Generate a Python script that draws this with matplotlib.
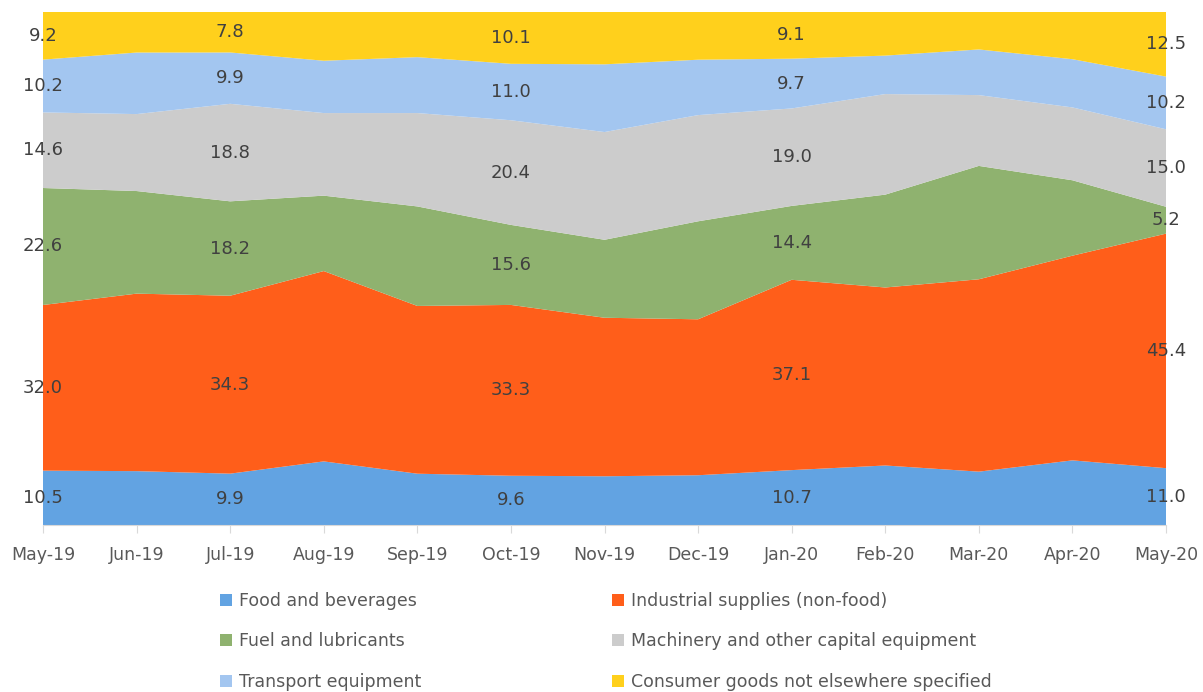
import matplotlib.pyplot as plt
from matplotlib.patches import Patch
import numpy as np

plt.rcParams['font.family'] = ['Liberation Sans Narrow', 'DejaVu Sans']

months = ["May-19", "Jun-19", "Jul-19", "Aug-19", "Sep-19", "Oct-19", "Nov-19",
          "Dec-19", "Jan-20", "Feb-20", "Mar-20", "Apr-20", "May-20"]

food = [10.5, 10.5, 9.9, 12.4, 10.0, 9.6, 9.5, 9.7, 10.7, 11.6, 10.4, 12.6, 11.0]
industrial = [32.0, 34.6, 34.3, 37.1, 32.7, 33.3, 30.9, 30.4, 37.1, 34.7, 37.5, 39.9, 45.4]
fuel = [22.6, 20.0, 18.2, 14.7, 19.4, 15.6, 15.2, 19.1, 14.4, 18.1, 22.1, 14.7, 5.2]
machinery = [14.6, 15.0, 18.8, 16.1, 18.2, 20.4, 21.0, 20.7, 19.0, 19.6, 13.8, 14.2, 15.0]
transport = [10.2, 12.0, 9.9, 10.2, 10.9, 11.0, 13.2, 10.8, 9.7, 7.5, 8.9, 9.4, 10.2]
consumer = [9.2, 7.9, 7.8, 9.5, 8.8, 10.1, 10.2, 9.3, 9.1, 8.5, 7.3, 9.2, 12.5]

names = ["Food and beverages", "Industrial supplies (non-food)", "Fuel and lubricants",
         "Machinery and other capital equipment", "Transport equipment",
         "Consumer goods not elsewhere specified"]
colors = ["#62A3E2", "#FF5E1A", "#8FB26F", "#CCCCCC", "#A3C6F0", "#FFD01C"]
labelled = [0, 2, 5, 8, 12]

series = np.array([food, industrial, fuel, machinery, transport, consumer])
share = series / series.sum(axis=0) * 100
x = np.arange(len(months))

fig = plt.figure(figsize=(12.03, 6.92), dpi=100)
ax = fig.add_axes([43 / 1203, 1 - 525 / 692, (1166 - 43) / 1203, (525 - 12) / 692])

ax.stackplot(x, share, colors=colors, linewidth=0)

cum = np.cumsum(share, axis=0)
for s in range(len(names)):
    for i in labelled:
        mid = cum[s, i] - share[s, i] / 2
        ax.text(x[i], mid, f"{series[s, i]:.1f}", ha="center", va="center",
                fontsize=13, color="#404040")

ax.set_xlim(0, len(months) - 1)
ax.set_ylim(0, 100)
ax.set_yticks([])
ax.set_xticks(x)
ax.set_xticklabels(months, fontsize=12.5, color="#595959")
ax.tick_params(axis="x", length=6, color="#D9D9D9", pad=9)
for side in ["top", "right", "left"]:
    ax.spines[side].set_visible(False)
ax.spines["bottom"].set_color("#D9D9D9")

handles = [Patch(facecolor=c, edgecolor="none") for c in colors]
order = [0, 2, 4, 1, 3, 5]
fig.legend([handles[i] for i in order], [names[i] for i in order], ncol=2,
           loc="center", bbox_to_anchor=(0.5035, 0.073), frameon=False,
           fontsize=12.5, labelcolor="#595959", handlelength=0.7, handleheight=0.7,
           handletextpad=0.4, labelspacing=1.3, columnspacing=11.0)

fig.savefig("out.png", dpi=100)
